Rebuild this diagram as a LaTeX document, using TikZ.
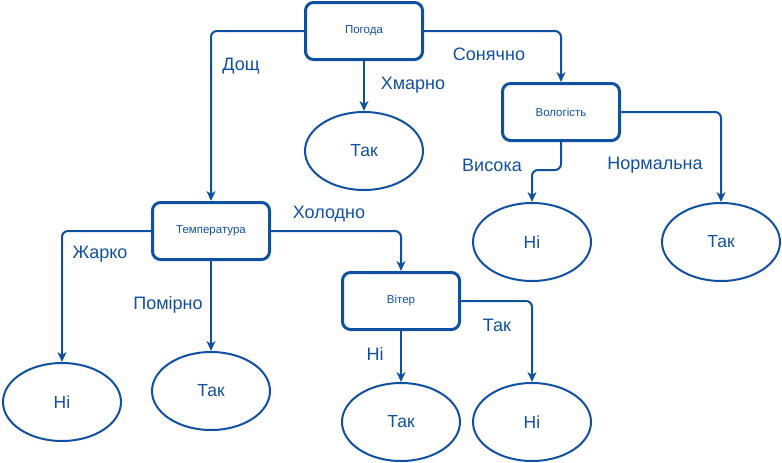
\documentclass[tikz,border=0pt]{standalone}
\usepackage{fontspec}
\setmainfont{Liberation Sans}
\usetikzlibrary{arrows.meta,shapes.geometric}
\definecolor{dblue}{RGB}{16,80,160}
\tikzset{
  decbox/.style={draw=dblue, line width=3pt, rounded corners=8pt, minimum width=117pt, minimum height=57pt, inner sep=0pt, text=dblue, font=\fontsize{11.5}{13}\selectfont},
  leaf/.style={draw=dblue, ellipse, line width=2pt, minimum width=118pt, minimum height=78pt, inner sep=0pt, text=dblue, font=\fontsize{17.5}{20}\selectfont},
  edge/.style={draw=dblue, line width=2pt, rounded corners=6pt, -{Stealth[length=10pt,width=9pt,inset=3pt]}},
  lbl/.style={text=dblue, inner sep=0pt, font=\fontsize{18}{21}\selectfont}
}
\begin{document}
\begin{tikzpicture}[x=1pt,y=-1pt]
\useasboundingbox (0,0) rectangle (782,463);
% decision boxes
\node[decbox] (pog) at (364,31) {Погода};
\node[decbox] (vol) at (561,112) {Вологість};
\node[decbox] (temp) at (211,231) {Температура};
\node[decbox] (vit) at (401,301) {Вітер};
% leaves
\node[leaf] (tak1) at (364,151) {Так};
\node[leaf] (ni1) at (532,242) {Ні};
\node[leaf] (tak2) at (721,242) {Так};
\node[leaf] (ni2) at (62,402) {Ні};
\node[leaf] (tak3) at (211,391) {Так};
\node[leaf] (tak4) at (401,422) {Так};
\node[leaf] (ni3) at (532,422) {Ні};
% connectors
\draw[edge] (pog.west) -| (temp.north);
\draw[edge] (pog.south) -- (tak1.north);
\draw[edge] (pog.east) -| (vol.north);
\coordinate (volbend) at (561,170);
\draw[edge] (vol.south) -- (volbend) -| (ni1.north);
\draw[edge] (vol.east) -| (tak2.north);
\draw[edge] (temp.west) -| (ni2.north);
\draw[edge] (temp.south) -- (tak3.north);
\draw[edge] (temp.east) -| (vit.north);
\draw[edge] (vit.south) -- (tak4.north);
\draw[edge] (vit.east) -| (ni3.north);
% labels
\node[lbl] (l1) at (241,66) {Дощ};
\node[lbl] (l2) at (413,85) {Хмарно};
\node[lbl] (l3) at (489,54) {Сонячно};
\node[lbl] (l4) at (492,165) {Висока};
\node[lbl] (l5) at (655,165) {Нормальна};
\node[lbl] (l6) at (100,254) {Жарко};
\node[lbl] (l7) at (168,305) {Помірно};
\node[lbl] (l8) at (329,214) {Холодно};
\node[lbl] (l9) at (375,354) {Ні};
\node[lbl] (l10) at (497,325) {Так};
\end{tikzpicture}
\end{document}
